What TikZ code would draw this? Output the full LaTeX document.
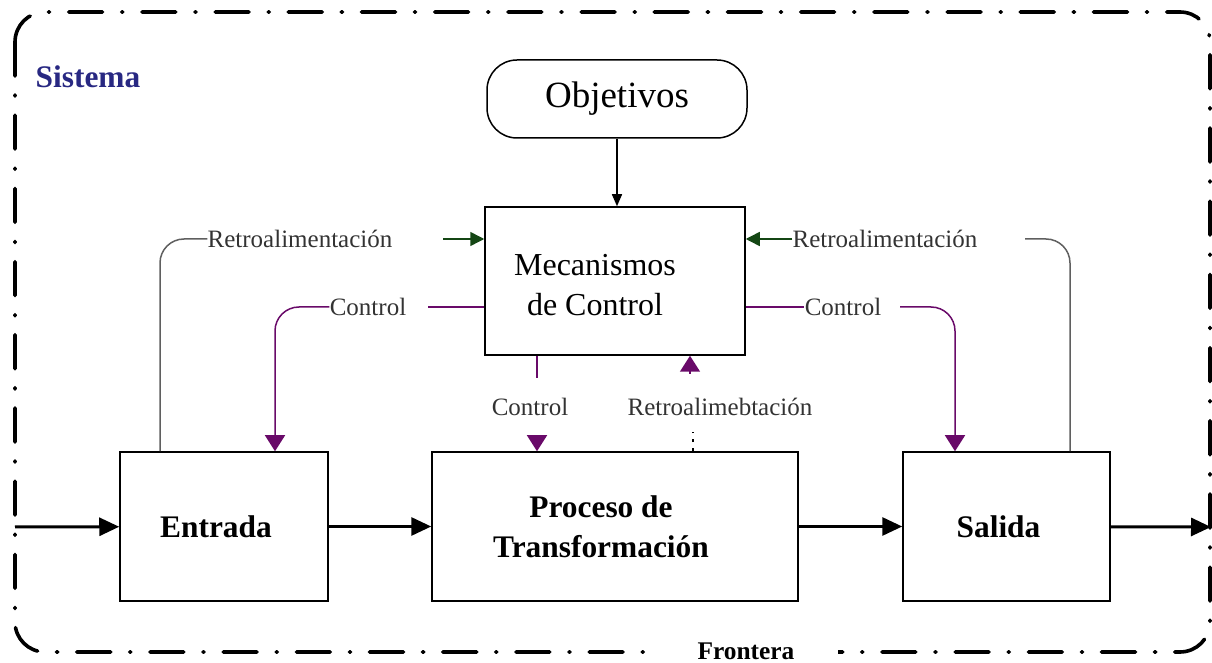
\documentclass[tikz,border=0pt]{standalone}
\usepackage{fontspec}
\setmainfont{Liberation Serif}
\usepackage{xcolor}
\usetikzlibrary{
		calc,
		arrows.meta,
		positioning
	}
\definecolor{ctrlpurple}{RGB}{105,10,105}
\definecolor{fbgreen}{RGB}{20,70,20}
\definecolor{fbgray}{RGB}{95,95,95}
\definecolor{sysblue}{RGB}{40,40,130}
\tikzset{
		>={Triangle[length=10pt,width=9pt]},
		block/.style={draw,line width=0.75pt,minimum width=#1,minimum height=74.5pt,inner sep=0pt},
		boldtxt/.style={inner sep=0pt,align=center,font=\fontsize{15.7}{20}\selectfont\bfseries},
		lbl/.style={inner sep=0pt,text=black!80,font=\fontsize{12.5}{14}\selectfont},
		flow/.style={line width=1.5pt,->},
		ctrl/.style={ctrlpurple,line width=0.75pt},
		ctrlhead/.style={-{Triangle[length=8pt,width=10pt]}},
		fb/.style={fbgray,line width=0.75pt},
		fbhead/.style={fbgreen,line width=0.75pt,-{Triangle[length=7pt,width=7pt]}},
		frontera/.style={line width=1.8pt,line cap=round,dash pattern=on 17pt off 9.5pt on 0.6pt off 9.5pt}
	}
\begin{document}
\begin{tikzpicture}[x=0.5pt,y=-0.5pt]
          \useasboundingbox (0,0) rectangle (1212,663);

          % frontera del sistema
          \draw[frontera,rounded corners=15pt] (15,12) rectangle (1210,652);
          \node[fill=white,inner xsep=22pt,inner ysep=1pt,font=\fontsize{12.7}{14}\selectfont\bfseries] (fro) at (746,651) {Frontera};
          \node[boldtxt,text=sysblue] (sis) at (88,77) {Sistema};

          % bloques
          \node[draw,line width=0.75pt,rounded corners=15pt,minimum width=130pt,minimum height=39pt,font=\fontsize{18.5}{20}\selectfont] (obj) at (617,99) {Objetivos};
          \node[block=130pt,minimum height=74pt] (mec) at (615,281) {};
          \node[inner sep=0pt,align=center,font=\fontsize{16}{20}\selectfont] (mectxt) at ([xshift=-10pt,yshift=-2pt]mec.center) {Mecanismos\\de Control};
          \node[block=104pt] (ent) at (224,526.5) {};
          \node[boldtxt] (enttxt) at ([xshift=-4pt]ent.center) {Entrada};
          \node[block=183pt] (pro) at (615,526.5) {};
          \node[boldtxt] (protxt) at ([xshift=-7pt]pro.center) {Proceso de\\Transformación};
          \node[block=103.5pt] (sal) at (1006.5,526.5) {};
          \node[boldtxt] (saltxt) at ([xshift=-4pt]sal.center) {Salida};

          % etiquetas
          \node[lbl] (rtL) at (300,239) {Retroalimentación};
          \node[lbl] (rtR) at (885,239) {Retroalimentación};
          \node[lbl] (ctL) at (368,307) {Control};
          \node[lbl] (ctR) at (843,307) {Control};
          \node[lbl] (ctM) at (530,407) {Control};
          \node[lbl] (rtM) at (720,407) {Retroalimebtación};

          \coordinate (inp) at (15,527);
          \coordinate (outp) at (1211,527);
          \coordinate (fbLa) at (443,239);
          \coordinate (fbRa) at (1025,239);
          \coordinate (ctLa) at (428,307);
          \coordinate (ctRa) at (900,307);
          \coordinate (ctMa) at (537,378);
          \coordinate (ctMb) at (537,436);
          \coordinate (rtMa) at (693,432);
          \coordinate (rtMb) at (690,374);

          % flujo principal
          \draw[flow] (inp) -- (ent);
          \draw[flow] (ent) -- (pro);
          \draw[flow] (pro) -- (sal);
          \draw[flow] (sal) -- (outp);
          \draw[line width=0.75pt,-{Triangle[length=6pt,width=5pt]}] (obj.south) -- (obj.south |- mec.north);

          % retroalimentacion
          \draw[fb,rounded corners=12pt] ([xshift=-32pt]ent.north) |- (rtL.west);
          \draw[fbhead] (fbLa) -- (fbLa -| mec.west);
          \draw[fb,rounded corners=12pt] ([xshift=31.75pt]sal.north) |- (fbRa);
          \draw[fbhead] (rtR.west) -- (rtR.west -| mec.east);
          \draw[dash pattern=on 1.5pt off 3pt,line width=1.2pt] (pro.north -| rtMa) -- (rtMa);
          \draw[ctrl,ctrlhead] (rtMb) -- (mec.south -| rtMb);

          % control
          \draw[ctrl] (mec.west |- ctLa) -- (ctLa);
          \draw[ctrl,ctrlhead,rounded corners=12pt] (ctL.west) -| ([xshift=25.5pt]ent.north);
          \draw[ctrl] (mec.east |- ctR) -- (ctR.west);
          \draw[ctrl,ctrlhead,rounded corners=12pt] (ctRa) -| ([xshift=-25.75pt]sal.north);
          \draw[ctrl] (mec.south -| ctMa) -- (ctMa);
          \draw[ctrl,ctrlhead] (ctMb) -- (pro.north -| ctMb);

\end{tikzpicture}
\end{document}
